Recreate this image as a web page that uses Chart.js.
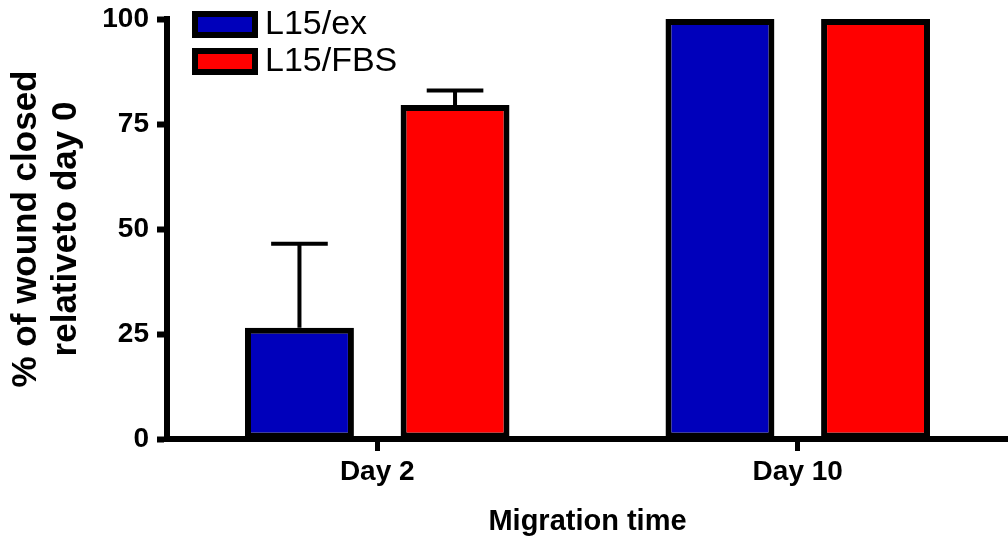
<!DOCTYPE html>
<html>
<head>
<meta charset="utf-8">
<title>Migration time</title>
<script src="https://cdn.jsdelivr.net/npm/chart.js@4.4.0/dist/chart.umd.min.js"></script>
<style>
    html, body { margin: 0; padding: 0; background: #fff; }
    #chart-wrap { width: 1008px; height: 545px; }
</style>
</head>
<body>
<div id="chart-wrap"><canvas id="wound-chart" width="1008" height="545"></canvas></div>
<script>
// values
const timePoints = ['Day 2', 'Day 10'];
const seriesNames = ['L15/ex', 'L15/FBS'];
const exValues = [26.5, 100];
const exErrors = [20, 0];
const fbsValues = [79.5, 100];
const fbsErrors = [3.5, 0];
const yTicks = [0, 25, 50, 75, 100];

const FONT = '"Liberation Sans", Arial, sans-serif';

 // plugin to draw the upper error bars on each bar
const errorBarPlugin = {
    id: 'errorBars',
    afterDatasetsDraw(chart) {
        const ctx = chart.ctx;
        const yScale = chart.scales.y;
        chart.data.datasets.forEach((ds, i) => {
            const meta = chart.getDatasetMeta(i);
            meta.data.forEach((bar, j) => {
                const err = ds.errors[j];
                if (!err) return;
                const yTop = yScale.getPixelForValue(ds.data[j] + err);
                const capHalf = bar.width * 0.26;
                ctx.save();
                ctx.strokeStyle = '#000';
                ctx.lineWidth = 4;
                ctx.beginPath();
                ctx.moveTo(bar.x, bar.y);
                ctx.lineTo(bar.x, yTop);
                ctx.moveTo(bar.x - capHalf, yTop);
                ctx.lineTo(bar.x + capHalf, yTop);
                ctx.stroke();
                ctx.restore();
            });
        });
    }
};

 // plugin to draw the boxed legend inside the plot, top left
const boxLegendPlugin = {
    id: 'boxLegend',
    afterDraw(chart) {
        const ctx = chart.ctx;
        const left = chart.chartArea.left + 25;
        let top = 11;
        ctx.save();
        chart.data.datasets.forEach(ds => {
            ctx.fillStyle = '#000';
            ctx.fillRect(left, top, 66, 27);
            ctx.fillStyle = ds.backgroundColor;
            ctx.fillRect(left + 6, top + 6, 54, 15);
            ctx.fillStyle = '#000';
            ctx.font = '34px ' + FONT;
            ctx.textBaseline = 'middle';
            ctx.textAlign = 'left';
            ctx.fillText(ds.label, left + 73, top + 14);
            top += 37;
        });
        ctx.restore();
    }
};

function createWoundChart() {
    const ctx = document.getElementById('wound-chart').getContext('2d');
    new Chart(ctx, {
        type: 'bar',
        data: {
            labels: timePoints,
            datasets: [
                {
                    label: seriesNames[0],
                    data: exValues,
                    errors: exErrors,
                    backgroundColor: '#0000bb',
                    borderColor: '#000',
                    borderWidth: 6,
                    borderSkipped: false
                },
                {
                    label: seriesNames[1],
                    data: fbsValues,
                    errors: fbsErrors,
                    backgroundColor: '#ff0000',
                    borderColor: '#000',
                    borderWidth: 6,
                    borderSkipped: false
                }
            ]
        },
        options: {
            responsive: false,
            animation: false,
            categoryPercentage: 0.74,
            barPercentage: 0.70,
            layout: { padding: { top: 19, right: 0, left: 0, bottom: 0 } },
            plugins: {
                legend: { display: false },
                tooltip: { enabled: false }
            },
            scales: {
                x: {
                    afterFit: s => { s.height = 106; },
                    grid: {
                        offset: false,
                        drawOnChartArea: false,
                        drawTicks: true,
                        tickLength: 12,
                        tickWidth: 5,
                        color: '#000'
                    },
                    border: { display: true, width: 6, color: '#000' },
                    ticks: {
                        color: '#000',
                        padding: 4,
                        font: { family: FONT, size: 28, weight: 'bold' }
                    },
                    title: {
                        display: true,
                        text: 'Migration time',
                        color: '#000',
                        padding: { top: 0, bottom: 6 },
                        font: { family: FONT, size: 29, weight: 'bold' }
                    }
                },
                y: {
                    min: 0,
                    max: 100,
                    afterFit: s => {
                        s.width = 167;
                        s.paddingTop = 0;
                        s.paddingBottom = 0;
                    },
                    afterBuildTicks: s => { s.ticks = yTicks.map(v => ({ value: v })); },
                    grid: {
                        drawOnChartArea: false,
                        drawTicks: true,
                        tickLength: 10,
                        tickWidth: 6,
                        color: '#000'
                    },
                    border: { display: true, width: 6, color: '#000' },
                    ticks: {
                        color: '#000',
                        padding: 8,
                        font: { family: FONT, size: 28, weight: 'bold' }
                    },
                    title: {
                        display: true,
                        text: ['% of wound closed', 'relativeto day 0'],
                        color: '#000',
                        padding: { top: 6, bottom: 0 },
                        font: { family: FONT, size: 35, weight: 'bold', lineHeight: 1.15 }
                    }
                }
            }
        },
        plugins: [errorBarPlugin, boxLegendPlugin]
    });
}

document.addEventListener('DOMContentLoaded', createWoundChart);
</script>
</body>
</html>
